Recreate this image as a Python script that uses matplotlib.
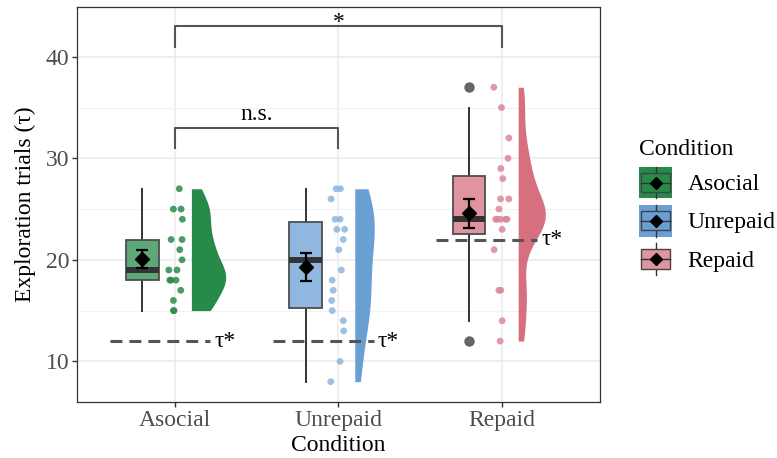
import numpy as np
import matplotlib.pyplot as plt
from matplotlib.legend_handler import HandlerBase
from matplotlib.patches import Rectangle
from matplotlib.lines import Line2D

plt.rcParams['font.family'] = ['Liberation Serif', 'DejaVu Serif']

condicoes = ['Asocial', 'Unrepaid', 'Repaid']

# tentativas de exploração por participante
tentativas_asocial = [27, 25, 25, 24, 22, 22, 21, 20, 19, 19, 18, 18, 18, 17, 16, 15, 15]
tentativas_unrepaid = [27, 27, 26, 24, 24, 23, 23, 22, 21, 19, 18, 17, 16, 15, 14, 13, 10, 8]
tentativas_repaid = [37, 35, 32, 30, 29, 28, 26, 26, 25, 24, 24, 24, 24, 24, 23, 21, 17, 17, 14, 12]

# deslocamento horizontal dos pontos brutos (jitter fixo)
jitter_asocial = [0.026, -0.010, 0.037, 0.045, -0.024, 0.043, 0.029, 0.043, -0.038, 0.012,
                  -0.024, 0.006, -0.032, 0.035, -0.010, -0.010, -0.006]
jitter_unrepaid = [-0.014, 0.012, -0.045, -0.020, 0.010, -0.010, 0.038, 0.030, 0.002, 0.018,
                   -0.038, -0.032, -0.041, -0.038, 0.030, 0.032, 0.010, -0.047]
jitter_repaid = [-0.049, -0.002, 0.043, 0.038, -0.006, 0.006, -0.008, 0.043, -0.018, -0.038,
                 -0.008, 0.032, -0.029, 0.023, 0.002, -0.047, -0.018, -0.006, 0.002, -0.010]

# número ótimo de tentativas (tau*) em cada condição
tau_otimo = [12, 12, 22]

cores_violino = ['#288A48', '#6A9FD4', '#D6707F']
cores_caixa = ['#5EA776', '#8FB7DF', '#E0949F']
cores_pontos = ['#2C8A4C', '#8DB5DE', '#DC8796']

TAMANHO_FONTE = 17


def densidade_kernel(valores, grade):
    v = np.asarray(valores, dtype=float)
    n = len(v)
    q75, q25 = np.percentile(v, [75, 25])
    largura_banda = 0.9 * min(v.std(ddof=1), (q75 - q25) / 1.34) * n ** -0.2
    z = (grade[:, None] - v[None, :]) / largura_banda
    return np.exp(-0.5 * z ** 2).sum(axis=1) / (n * largura_banda * np.sqrt(2 * np.pi))


class ChaveLegenda:
    def __init__(self, fundo, caixa):
        self.fundo = fundo
        self.caixa = caixa


class HandlerChave(HandlerBase):
    def create_artists(self, legend, orig_handle, xdescent, ydescent, width, height, fontsize, trans):
        x0, y0 = -xdescent, -ydescent
        artistas = []
        if orig_handle.fundo is not None:
            artistas.append(Rectangle((x0, y0), width, height, facecolor=orig_handle.fundo,
                                      edgecolor='none', transform=trans))
        cx, cy = x0 + width / 2, y0 + height / 2
        artistas.append(Line2D([cx, cx], [y0, y0 + height], color='#333333', lw=1.0, transform=trans))
        artistas.append(Rectangle((x0 + 0.06 * width, y0 + 0.2 * height), 0.88 * width, 0.6 * height,
                                  facecolor=orig_handle.caixa, edgecolor='#444444', lw=1.0,
                                  transform=trans))
        artistas.append(Line2D([x0 + 0.06 * width, x0 + 0.94 * width], [cy, cy], color='#333333',
                               lw=1.0, transform=trans))
        artistas.append(Line2D([cx], [cy], marker='D', color='black', markersize=6.5, transform=trans))
        return artistas


def principal():
    dados = [tentativas_asocial, tentativas_unrepaid, tentativas_repaid]
    jitters = [jitter_asocial, jitter_unrepaid, jitter_repaid]
    posicoes = np.arange(1, len(condicoes) + 1)

    fig = plt.figure(figsize=(7.77, 4.58), dpi=100)
    ax = fig.add_axes([0.0991, 0.1223, 0.6729, 0.8617])

    # violinos pela metade, à direita de cada condição
    grades = [np.linspace(min(d), max(d), 200) for d in dados]
    densidades = [densidade_kernel(d, g) for d, g in zip(dados, grades)]
    escala = 0.21 / max(dens.max() for dens in densidades)
    for i, (g, dens) in enumerate(zip(grades, densidades)):
        base = posicoes[i] + 0.1
        ax.fill_betweenx(g, base, base + dens * escala, color=cores_violino[i], lw=0, zorder=2)

    # pontos brutos
    for i, (d, j) in enumerate(zip(dados, jitters)):
        ax.scatter(posicoes[i] + np.array(j), d, s=24, color=cores_pontos[i], alpha=0.85,
                   edgecolors='none', zorder=3)

    # boxplots deslocados para a esquerda
    caixas = ax.boxplot(dados, positions=posicoes - 0.2, widths=0.2, patch_artist=True,
                        showcaps=False, whis=1.5, manage_ticks=False,
                        boxprops=dict(edgecolor='#4D4D4D', linewidth=1.3),
                        medianprops=dict(color='#333333', linewidth=4.3),
                        whiskerprops=dict(color='#333333', linewidth=1.4),
                        flierprops=dict(marker='o', markerfacecolor='#666666',
                                        markeredgecolor='none', markersize=7.5))
    for caixa, cor in zip(caixas['boxes'], cores_caixa):
        caixa.set_facecolor(cor)
        caixa.set_zorder(3)
    for mediana in caixas['medians']:
        mediana.set_zorder(4)
        mediana.set_solid_capstyle('butt')

    # média e erro padrão
    medias = [np.mean(d) for d in dados]
    erros = [np.std(d, ddof=1) / np.sqrt(len(d)) for d in dados]
    ax.errorbar(posicoes - 0.2, medias, yerr=erros, fmt='none', ecolor='black',
                elinewidth=1.6, capsize=4, capthick=1.6, zorder=5)
    ax.plot(posicoes - 0.2, medias, 'D', color='black', markersize=7.5, zorder=6)

    # linhas de tau*
    for i, tau in enumerate(tau_otimo):
        ax.plot([posicoes[i] - 0.4, posicoes[i] + 0.215], [tau, tau], color='#555555',
                lw=2.2, dashes=(3.9, 2.3), zorder=4)
        ax.text(posicoes[i] + 0.24, tau, 'τ*', fontsize=TAMANHO_FONTE, ha='left', va='center',
                zorder=7)

    # comparações
    ax.plot([1, 1, 3, 3], [41, 43.05, 43.05, 41], color='#555555', lw=1.5)
    ax.text(2, 42.8, '*', fontsize=TAMANHO_FONTE, ha='center', va='baseline')
    ax.plot([1, 1, 2, 2], [31, 33, 33, 31], color='#555555', lw=1.5)
    ax.text(1.5, 33.8, 'n.s.', fontsize=TAMANHO_FONTE, ha='center', va='baseline')

    ax.set_xlim(0.4, 3.6)
    ax.set_ylim(6.0, 44.87)
    ax.set_xticks(posicoes)
    ax.set_xticklabels(condicoes)
    ax.set_yticks([10, 20, 30, 40])
    ax.set_yticks([15, 25, 35], minor=True)
    ax.tick_params(axis='both', which='major', labelsize=TAMANHO_FONTE, labelcolor='#4D4D4D',
                   color='#333333', length=3.5, width=1, pad=2)
    ax.tick_params(axis='y', which='minor', length=0)
    ax.grid(True, which='major', color='#EBEBEB', lw=1.1, zorder=0)
    ax.grid(True, which='minor', axis='y', color='#F2F2F2', lw=0.8, zorder=0)
    ax.set_axisbelow(True)
    for lado in ax.spines.values():
        lado.set_color('#333333')
        lado.set_linewidth(0.9)

    ax.set_xlabel('Condition', fontsize=TAMANHO_FONTE, labelpad=3.5)
    ax.set_ylabel('Exploration trials (τ)', fontsize=TAMANHO_FONTE, labelpad=7)

    chaves = [ChaveLegenda(cores_violino[0], cores_violino[0]),
              ChaveLegenda(cores_violino[1], cores_violino[1]),
              ChaveLegenda(None, cores_caixa[2])]
    fig.legend(chaves, condicoes, handler_map={ChaveLegenda: HandlerChave()},
               loc='upper left', bbox_to_anchor=(0.823, 0.696), frameon=False,
               title='Condition', title_fontsize=TAMANHO_FONTE, fontsize=TAMANHO_FONTE,
               alignment='left', borderpad=0, borderaxespad=0, handlelength=1.36,
               handleheight=1.7, handletextpad=0.68, labelspacing=0.27)

    fig.savefig('out.png', dpi=100)


if __name__ == '__main__':
    principal()
